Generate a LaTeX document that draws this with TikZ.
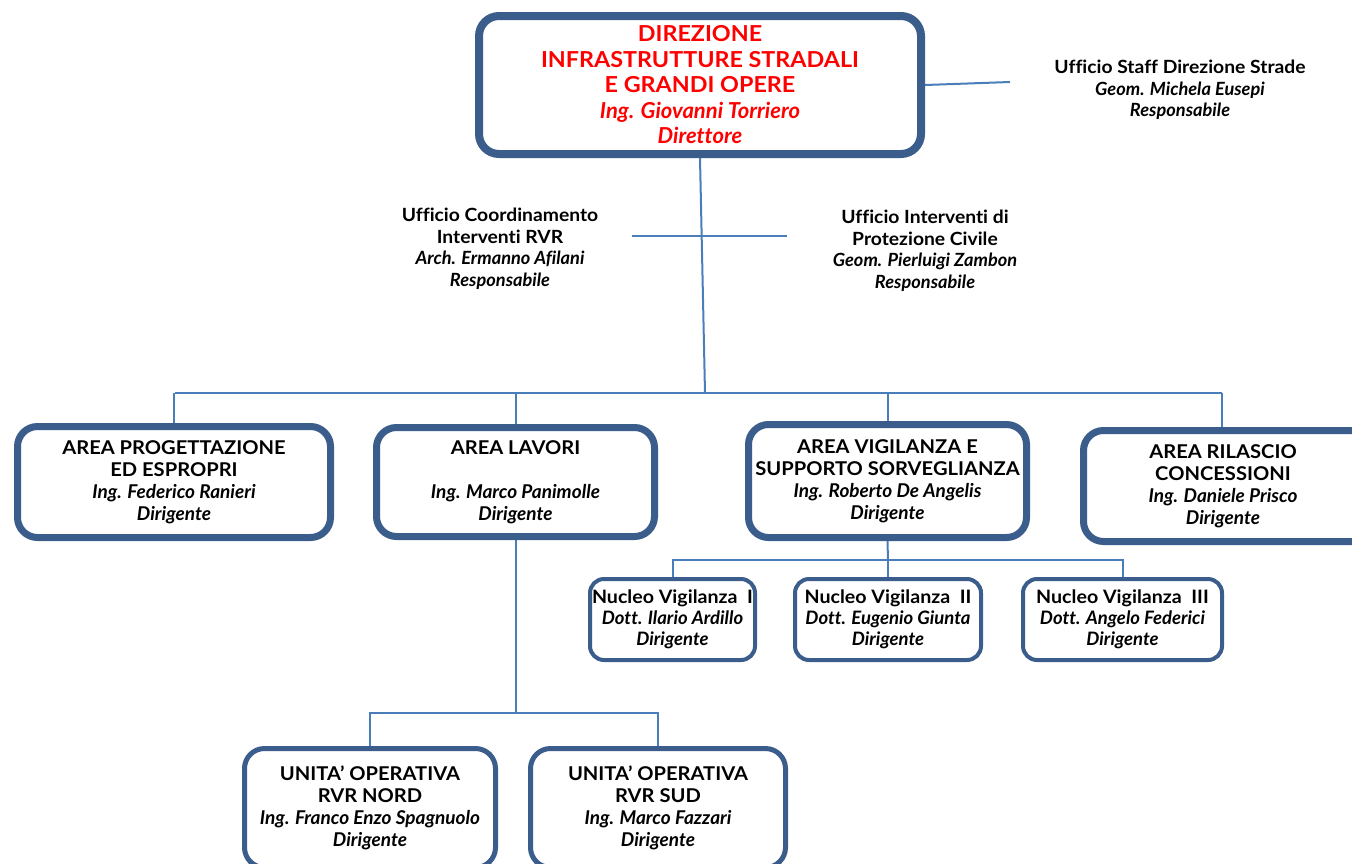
\documentclass[tikz,border=0pt]{standalone}
\usepackage{fontspec}
\setmainfont{Lato}[Ligatures=NoCommon, BoldFeatures={FakeStretch=1.06}]
\definecolor{boxblue}{RGB}{58,93,140}
\definecolor{linkblue}{RGB}{74,126,187}
\definecolor{titlered}{RGB}{255,0,0}
\tikzset{
  bx/.style={draw=boxblue, rounded corners=20pt, align=center, inner sep=0pt, fill=white},
  topbox/.style={bx, line width=8pt, text=titlered, font=\fontsize{22}{25.5}\selectfont\bfseries},
  areabox/.style={bx, line width=7pt, font=\fontsize{19}{22}\selectfont\bfseries},
  nucbox/.style={bx, line width=4pt, rounded corners=14pt, font=\fontsize{18.5}{21}\selectfont\bfseries},
  unitbox/.style={bx, line width=5pt, font=\fontsize{19}{22}\selectfont\bfseries},
  lbl/.style={align=center, inner sep=0pt, font=\fontsize{18.2}{21.5}\selectfont\bfseries},
  conn/.style={draw=linkblue, line width=2pt},
}
\begin{document}
\begin{tikzpicture}[x=1pt,y=-1pt]
\useasboundingbox (0,0) rectangle (1352,863);
% top
\node[topbox, minimum width=442pt, minimum height=138pt] (top) at (700,85)
  {DIREZIONE\\INFRASTRUTTURE STRADALI\\E GRANDI OPERE\\\itshape Ing. Giovanni Torriero\\\itshape Direttore};
\node[lbl] (staff) at (1180,90) {Ufficio Staff Direzione Strade\\\itshape Geom. Michela Eusepi\\\itshape Responsabile};
\coordinate (staffend) at (1010,82);
\draw[conn] (top.east) -- (staffend);
% offices
\node[lbl] (coord) at (500,249) {Ufficio Coordinamento\\Interventi RVR\\\itshape Arch. Ermanno Afilani\\\itshape Responsabile};
\node[lbl] (prot) at (925,251) {Ufficio Interventi di\\Protezione Civile\\\itshape Geom. Pierluigi Zambon\\\itshape Responsabile};
\coordinate (crossL) at (632,236);
\coordinate (crossR) at (787,236);
\draw[conn] (crossL) -- (crossR);
% bus
\coordinate (busL) at (175,393);
\coordinate (busR) at (1222,393);
\coordinate (busM) at (705,393);
\draw[conn] (top.south) -- (busM);
\draw[conn] (busL) -- (busR);
% areas
\node[areabox, minimum width=313pt, minimum height=111pt] (a1) at (174,482)
  {AREA PROGETTAZIONE\\ED ESPROPRI\\\itshape Ing. Federico Ranieri\\\itshape Dirigente};
\node[areabox, minimum width=278pt, minimum height=109pt] (a2) at (515.5,482)
  {AREA LAVORI\\[22pt]\itshape Ing. Marco Panimolle\\\itshape Dirigente};
\node[areabox, minimum width=278pt, minimum height=113pt] (a3) at (887.5,481)
  {AREA VIGILANZA E\\SUPPORTO SORVEGLIANZA\\\itshape Ing. Roberto De Angelis\\\itshape Dirigente};
\node[areabox, minimum width=300pt, minimum height=111pt] (a4) at (1233.5,486)
  {};
\node[lbl, font=\fontsize{19}{22}\selectfont\bfseries] (a4t) at (1223,486)
  {AREA RILASCIO\\CONCESSIONI\\\itshape Ing. Daniele Prisco\\\itshape Dirigente};
\draw[conn] (a1.north) -- (a1.north |- busL);
\draw[conn] (a2.north) -- (a2.north |- busL);
\draw[conn] (a3.north) -- (a3.north |- busL);
\draw[conn] (busR) -- (busR |- a4.north);
% nuclei
\coordinate (nbusM) at (888,560);
\node[nucbox, minimum width=165pt, minimum height=81pt] (n1) at (672.5,619.5)
  {Nucleo Vigilanza~~I\\\itshape Dott. Ilario Ardillo\\\itshape Dirigente};
\node[nucbox, minimum width=186pt, minimum height=81pt] (n2) at (888,619.5)
  {Nucleo Vigilanza~~II\\\itshape Dott. Eugenio Giunta\\\itshape Dirigente};
\node[nucbox, minimum width=199pt, minimum height=81pt] (n3) at (1122.5,619.5)
  {Nucleo Vigilanza~~III\\\itshape Dott. Angelo Federici\\\itshape Dirigente};
\draw[conn] (a3.south) -- (nbusM);
\draw[conn] (n1.north) -- (n1.north |- nbusM) -- (n3.north |- nbusM) -- (n3.north);
\draw[conn] (n2.north) -- (nbusM);
% units
\coordinate (ubusM) at (515.5,713);
\node[unitbox, minimum width=251pt, minimum height=119pt] (u1) at (370,808)
  {UNITA' OPERATIVA\\RVR NORD\\\itshape Ing. Franco Enzo Spagnuolo\\\itshape Dirigente};
\node[unitbox, minimum width=255pt, minimum height=119pt] (u2) at (658,808)
  {UNITA' OPERATIVA\\RVR SUD\\\itshape Ing. Marco Fazzari\\\itshape Dirigente};
\draw[conn] (a2.south) -- (ubusM);
\draw[conn] (u1.north) -- (u1.north |- ubusM) -- (u2.north |- ubusM) -- (u2.north);
\end{tikzpicture}
\end{document}
